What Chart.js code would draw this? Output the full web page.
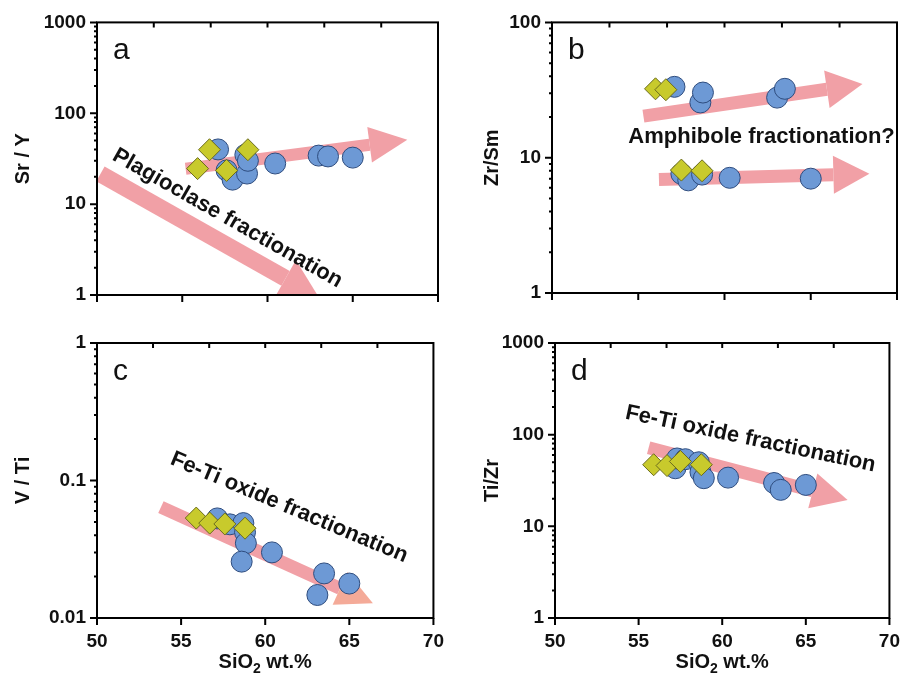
<!DOCTYPE html>
<html>
<head>
<meta charset="utf-8">
<script src="https://cdn.jsdelivr.net/npm/chart.js@4.4.1/dist/chart.umd.min.js"></script>
<style>
body { margin: 0; background: #fff; }
#wrap { position: relative; width: 912px; height: 678px; }
canvas { position: absolute; }
</style>
</head>
<body>
<div id="wrap">
<canvas id="ca" width="456" height="320" style="left:0;top:0"></canvas>
<canvas id="cb" width="456" height="320" style="left:456px;top:0"></canvas>
<canvas id="cc" width="456" height="358" style="left:0;top:320px"></canvas>
<canvas id="cd" width="456" height="358" style="left:456px;top:320px"></canvas>
</div>
<script>
// values (SiO2 wt.% against each ratio)
var siCircA = [57.1, 57.6, 57.95, 58.8, 58.7, 58.85, 60.45, 63.0, 63.55, 65.0];
var srYCirc = [40, 23.5, 18.6, 21.7, 35, 30, 28, 34.2, 33.5, 32.5];
var siDiaA  = [55.9, 56.6, 57.6, 58.85];
var srYDia  = [24.6, 39.7, 23.5, 39.7];

var siCircB = [57.1, 58.6, 58.75, 63.05, 63.5, 57.5, 57.9, 58.7, 60.3, 65.0];
var zrSmCirc = [33.4, 25.6, 30.3, 27.8, 32.3, 7.6, 6.8, 7.5, 7.1, 7.0];
var siDiaB  = [56.0, 56.6, 57.5, 58.7];
var zrSmDia = [32.3, 31.8, 8.1, 8.0];

var siCircC = [57.15, 57.9, 58.7, 58.8, 58.85, 58.6, 60.4, 63.1, 63.5, 65.0];
var vTiCirc = [0.053, 0.048, 0.049, 0.042, 0.035, 0.0257, 0.030, 0.0147, 0.0211, 0.0178];
var siDiaC  = [55.9, 56.7, 57.6, 58.8];
var vTiDia  = [0.0533, 0.049, 0.0483, 0.045];

var siCircD = [57.2, 57.3, 57.8, 58.6, 58.7, 58.9, 60.35, 63.1, 63.5, 65.0];
var tiZrCirc = [43, 55, 54, 50, 39, 33.5, 34, 29.7, 25, 28.3];
var siDiaD  = [55.9, 56.7, 57.5, 58.75];
var tiZrDia = [47, 46, 51, 47];

var xTicks = [50, 55, 60, 65, 70];
var xTopTicks = [53.33, 56.67, 60, 63.33, 66.67];
var yDecadesA = [1, 10, 100, 1000];
var yDecadesB = [1, 10, 100];
var yDecadesC = [0.01, 0.1, 1];
var yDecadesD = [1, 10, 100, 1000];

var PINK = '#F1A0A6';
var FONT = "'Liberation Sans', Arial, sans-serif";

function toPts(xs, ys) {
	return xs.map(function (x, i) { return { x: x, y: ys[i] }; });
}

function logTicks(decades) {
	var out = [];
	for (var i = 0; i < decades.length; i++) {
		out.push(decades[i]);
		if (i < decades.length - 1) {
			for (var k = 2; k <= 9; k++) out.push(+(k * decades[i]).toPrecision(3));
		}
	}
	return out;
}

function drawArrow(ctx, x0, y0, x1, y1, w, head, len, col, headCol) {
	var dx = x1 - x0, dy = y1 - y0, d = Math.sqrt(dx * dx + dy * dy);
	var ux = dx / d, uy = dy / d, nx = -uy, ny = ux;
	var bx = x1 - ux * len, by = y1 - uy * len;
	ctx.fillStyle = col;
	ctx.beginPath();
	ctx.moveTo(x0 + nx * w / 2, y0 + ny * w / 2);
	ctx.lineTo(bx + nx * w / 2, by + ny * w / 2);
	ctx.lineTo(bx - nx * w / 2, by - ny * w / 2);
	ctx.lineTo(x0 - nx * w / 2, y0 - ny * w / 2);
	ctx.closePath();
	ctx.fill();
	ctx.fillStyle = headCol || col;
	ctx.beginPath();
	ctx.moveTo(bx + nx * head / 2, by + ny * head / 2);
	ctx.lineTo(x1, y1);
	ctx.lineTo(bx - nx * head / 2, by - ny * head / 2);
	ctx.closePath();
	ctx.fill();
}

var deco = {
	id: 'deco',
	beforeDatasetsDraw: function (chart, args, o) {
		var ctx = chart.ctx, a = chart.chartArea, xs = chart.scales.x, ys = chart.scales.y;
		ctx.save();
		ctx.beginPath();
		ctx.rect(a.left, a.top, a.right - a.left, a.bottom - a.top);
		ctx.clip();
		o.arrows.forEach(function (ar) {
			drawArrow(ctx, xs.getPixelForValue(ar.from[0]), ys.getPixelForValue(ar.from[1]),
				xs.getPixelForValue(ar.to[0]), ys.getPixelForValue(ar.to[1]),
				ar.w, ar.head, ar.len, PINK, ar.headColor);
		});
		ctx.restore();
	},
	afterDatasetsDraw: function (chart, args, o) {
		var ctx = chart.ctx, xs = chart.scales.x, ys = chart.scales.y;
		ctx.save();
		ctx.fillStyle = '#111';
		ctx.font = 'bold 22px ' + FONT;
		ctx.textAlign = 'center';
		ctx.textBaseline = 'middle';
		o.notes.forEach(function (n) {
			ctx.save();
			ctx.translate(xs.getPixelForValue(n.at[0]), ys.getPixelForValue(n.at[1]));
			ctx.rotate(n.angle * Math.PI / 180);
			ctx.fillText(n.text, 0, 0);
			ctx.restore();
		});
		ctx.restore();
	},
	afterDraw: function (chart, args, o) {
		var ctx = chart.ctx, a = chart.chartArea, xs = chart.scales.x, ys = chart.scales.y;
		ctx.save();
		ctx.strokeStyle = '#000';
		ctx.lineWidth = 2;
		ctx.strokeRect(a.left, a.top, a.right - a.left, a.bottom - a.top);
		ctx.beginPath();
		xTicks.forEach(function (v) {
			var px = xs.getPixelForValue(v);
			ctx.moveTo(px, a.bottom); ctx.lineTo(px, a.bottom + 7);
		});
		xTopTicks.forEach(function (v) {
			var px = xs.getPixelForValue(v);
			ctx.moveTo(px, a.top); ctx.lineTo(px, a.top + 5);
		});
		logTicks(o.decades).forEach(function (v) {
			var py = ys.getPixelForValue(v);
			var major = o.decades.indexOf(v) >= 0;
			ctx.moveTo(a.left, py); ctx.lineTo(a.left - (major ? 7 : 3), py);
		});
		ctx.stroke();
		// panel letter
		ctx.fillStyle = '#111';
		ctx.font = '30px ' + FONT;
		ctx.textAlign = 'left';
		ctx.textBaseline = 'alphabetic';
		ctx.fillText(o.letter, a.left + 16, a.top + 37);
		// x title with subscript
		if (o.xTitle) {
			var big = 'bold 20px ' + FONT, small = 'bold 14px ' + FONT;
			ctx.font = big; var w1 = ctx.measureText('SiO').width, w3 = ctx.measureText(' wt.%').width;
			ctx.font = small; var w2 = ctx.measureText('2').width;
			var x0 = (a.left + a.right) / 2 - (w1 + w2 + w3) / 2, yb = chart.height - 10;
			ctx.font = big; ctx.fillText('SiO', x0, yb);
			ctx.font = small; ctx.fillText('2', x0 + w1, yb + 5);
			ctx.font = big; ctx.fillText(' wt.%', x0 + w1 + w2, yb);
		}
		ctx.restore();
	}
};

function makePanel(id, cfg) {
	var ticksList = logTicks(cfg.decades);
	return new Chart(document.getElementById(id), {
		type: 'scatter',
		data: {
			datasets: [
				{
					data: cfg.dia,
					pointStyle: 'rectRot',
					pointRadius: 11,
					backgroundColor: '#C8CA2C',
					borderColor: '#6B6C1E',
					borderWidth: 1,
					order: 1
				},
				{
					data: cfg.circ,
					pointStyle: 'circle',
					pointRadius: 10.5,
					backgroundColor: '#6D99D5',
					borderColor: '#2E4C7E',
					borderWidth: 1,
					order: 2
				}
			]
		},
		options: {
			responsive: false,
			animation: false,
			events: [],
			layout: { padding: cfg.pad },
			plugins: {
				legend: { display: false },
				tooltip: { enabled: false },
				deco: { arrows: cfg.arrows, notes: cfg.notes, letter: cfg.letter, decades: cfg.decades, xTitle: cfg.xLabels }
			},
			scales: {
				x: {
					type: 'linear',
					min: 50,
					max: 70,
					grid: { display: false, drawTicks: false },
					border: { display: false },
					afterBuildTicks: function (s) { s.ticks = xTicks.map(function (v) { return { value: v }; }); },
					afterFit: function (s) { s.height = cfg.xH; },
					ticks: {
						display: cfg.xLabels,
						padding: 12,
						color: '#111',
						font: { family: FONT, size: 19, weight: 'bold' }
					}
				},
				y: {
					type: 'logarithmic',
					min: cfg.decades[0],
					max: cfg.decades[cfg.decades.length - 1],
					grid: { display: false, drawTicks: false },
					border: { display: false },
					afterBuildTicks: function (s) { s.ticks = ticksList.map(function (v) { return { value: v }; }); },
					afterFit: function (s) { s.width = cfg.yW; },
					title: {
						display: true,
						text: cfg.yTitle,
						color: '#111',
						padding: { top: cfg.titlePad, bottom: 0 },
						font: { family: FONT, size: 20, weight: 'bold' }
					},
					ticks: {
						autoSkip: false,
						padding: 11,
						color: '#111',
						font: { family: FONT, size: 19, weight: 'bold' },
						callback: function (v) { return cfg.decades.indexOf(v) >= 0 ? String(v) : ''; }
					}
				}
			}
		},
		plugins: [deco]
	});
}

makePanel('ca', {
	circ: toPts(siCircA, srYCirc), dia: toPts(siDiaA, srYDia),
	decades: yDecadesA, yTitle: 'Sr / Y', letter: 'a', xLabels: false,
	pad: { top: 21, right: 18, left: 0, bottom: 0 }, yW: 97, xH: 25, titlePad: 11,
	arrows: [
		{ from: [55.2, 24.5], to: [68.2, 51], w: 12, head: 36, len: 38 },
		{ from: [50.2, 21.5], to: [63.0, 0.95], w: 17, head: 42, len: 38 }
	],
	notes: [{ text: 'Plagioclase fractionation', at: [57.65, 7.0], angle: 29.6 }]
});

makePanel('cb', {
	circ: toPts(siCircB, zrSmCirc), dia: toPts(siDiaB, zrSmDia),
	decades: yDecadesB, yTitle: 'Zr/Sm', letter: 'b', xLabels: false,
	pad: { top: 16, right: 15, left: 0, bottom: 0 }, yW: 96, xH: 27, titlePad: 24,
	arrows: [
		{ from: [55.3, 20.3], to: [68.0, 35], w: 13, head: 38, len: 36 },
		{ from: [56.2, 6.9], to: [68.4, 7.6], w: 13, head: 38, len: 36 }
	],
	notes: [{ text: 'Amphibole fractionation?', at: [62.15, 14.3], angle: 0 }]
});

makePanel('cc', {
	circ: toPts(siCircC, vTiCirc), dia: toPts(siDiaC, vTiDia),
	decades: yDecadesC, yTitle: 'V / Ti', letter: 'c', xLabels: true,
	pad: { top: 23, right: 15, left: 0, bottom: 0 }, yW: 97, xH: 60, titlePad: 11,
	arrows: [
		{ from: [53.8, 0.064], to: [66.4, 0.0128], w: 13, head: 36, len: 36, headColor: '#F4AA98' }
	],
	notes: [{ text: 'Fe-Ti oxide fractionation', at: [61.42, 0.0636], angle: 22.8 }]
});

makePanel('cd', {
	circ: toPts(siCircD, tiZrCirc), dia: toPts(siDiaD, tiZrDia),
	decades: yDecadesD, yTitle: 'Ti/Zr', letter: 'd', xLabels: true,
	pad: { top: 23, right: 13, left: 0, bottom: 0 }, yW: 99, xH: 60, titlePad: 24,
	arrows: [
		{ from: [55.6, 72], to: [67.5, 19.4], w: 13, head: 36, len: 36 }
	],
	notes: [{ text: 'Fe-Ti oxide fractionation', at: [61.69, 89.7], angle: 12 }]
});
</script>
</body>
</html>
